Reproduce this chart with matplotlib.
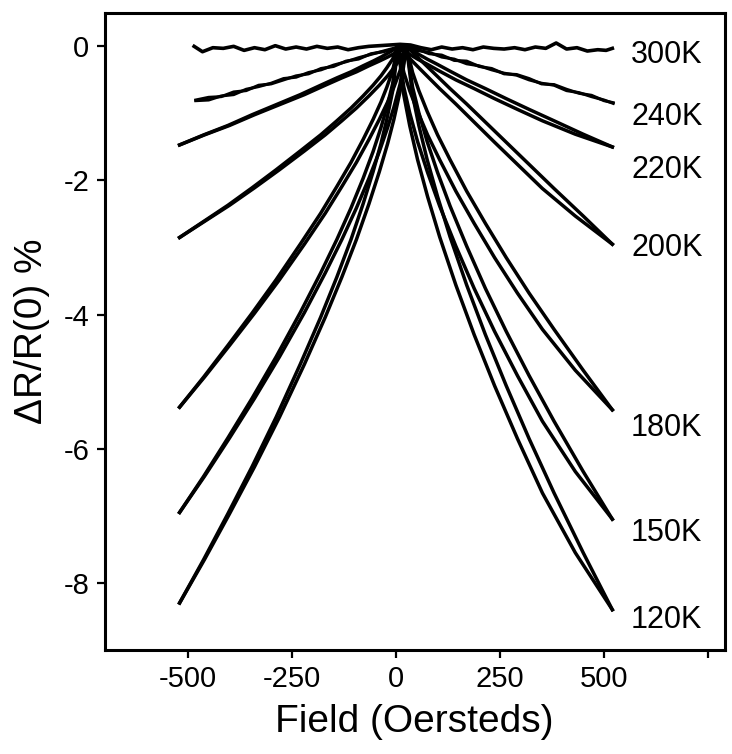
import numpy as np
import matplotlib
matplotlib.use("Agg")
import matplotlib.pyplot as plt

plt.rcParams['font.family'] = ['Liberation Sans', 'DejaVu Sans']
plt.rcParams['axes.unicode_minus'] = False

# Field points (Oe) for the increasing and decreasing sweeps of the
# low-temperature curves (peak sits near the coercive field)
field_up = [-520, -460, -400, -340, -280, -220, -170, -130, -95, -65, -40, -20,
            -5, 10, 25, 40, 55, 75, 100, 130, 170, 215, 265, 320, 380, 450, 520]
field_down = [-520, -462, -404, -346, -288, -230, -181, -142, -108, -79, -55,
              -36, -22, -8, 5, 19, 33, 52, 76, 105, 144, 188, 237, 292, 352,
              431, 520]

# dR/R(0) in percent for each temperature
mr_120 = [-8.30, -7.65, -6.97, -6.27, -5.53, -4.74, -4.04, -3.44, -2.88, -2.35,
          -1.87, -1.45, -1.09, -0.67, 0.0, -0.73, -1.18, -1.69, -2.24, -2.84,
          -3.56, -4.30, -5.06, -5.85, -6.66, -7.55, -8.40]
mr_150 = [-6.95, -6.41, -5.84, -5.25, -4.63, -3.97, -3.38, -2.88, -2.41, -1.97,
          -1.57, -1.21, -0.91, -0.56, 0.0, -0.61, -0.99, -1.42, -1.88, -2.38,
          -2.98, -3.61, -4.25, -4.91, -5.59, -6.34, -7.05]
mr_180 = [-5.38, -4.93, -4.46, -3.98, -3.48, -2.95, -2.49, -2.09, -1.73, -1.39,
          -1.09, -0.83, -0.61, -0.36, 0.0, -0.39, -0.66, -0.97, -1.32, -1.69,
          -2.16, -2.64, -3.15, -3.68, -4.22, -4.83, -5.42]
mr_200 = [-2.85, -2.61, -2.37, -2.11, -1.84, -1.56, -1.32, -1.11, -0.92, -0.74,
          -0.58, -0.44, -0.32, -0.19, 0.0, -0.09, -0.18, -0.30, -0.45, -0.63,
          -0.86, -1.13, -1.43, -1.76, -2.12, -2.53, -2.95]
mr_220 = [-1.47, -1.32, -1.18, -1.02, -0.87, -0.72, -0.58, -0.47, -0.38, -0.29,
          -0.22, -0.16, -0.11, -0.06, 0.0, -0.06, -0.12, -0.19, -0.27, -0.37,
          -0.50, -0.63, -0.78, -0.94, -1.11, -1.31, -1.50]

field_240 = [-481, -450, -420, -390, -360, -330, -300, -270, -240, -210, -180,
             -150, -120, -90, -60, -30, 0, 20, 50, 80, 110, 140, 170, 200, 230,
             260, 290, 320, 350, 380, 410, 440, 470, 500, 522]
mr_240 = [-0.81, -0.80, -0.74, -0.72, -0.64, -0.60, -0.55, -0.48, -0.46, -0.39,
          -0.35, -0.28, -0.23, -0.17, -0.12, -0.07, -0.02, 0.0, -0.06, -0.09,
          -0.16, -0.19, -0.26, -0.29, -0.35, -0.40, -0.43, -0.50, -0.55, -0.58,
          -0.66, -0.69, -0.75, -0.80, -0.85]
mr_240_back = [-0.80, -0.76, -0.75, -0.68, -0.66, -0.58, -0.56, -0.50, -0.44,
               -0.41, -0.33, -0.30, -0.22, -0.19, -0.11, -0.08, -0.03, 0.0,
               -0.04, -0.11, -0.13, -0.21, -0.22, -0.30, -0.33, -0.41, -0.42,
               -0.48, -0.56, -0.57, -0.64, -0.70, -0.73, -0.81, -0.84]

field_300 = [-485, -465, -440, -415, -390, -365, -340, -315, -290, -265, -240,
             -215, -190, -165, -140, -115, -90, -65, -40, -15, 10, 35, 60, 85,
             110, 135, 160, 185, 210, 235, 260, 285, 310, 335, 360, 385, 410,
             435, 460, 485, 505, 520]
mr_300 = [0.0, -0.08, -0.02, -0.03, 0.0, -0.06, -0.02, -0.05, 0.01, -0.04,
          -0.01, -0.04, 0.0, -0.03, -0.01, -0.05, -0.02, 0.0, 0.01, 0.02, 0.03,
          0.02, -0.02, -0.05, -0.01, -0.04, -0.02, -0.05, -0.01, -0.03, -0.04,
          -0.02, -0.05, -0.01, -0.03, 0.05, -0.04, -0.02, -0.07, -0.05, -0.06,
          -0.03]

low_t = [mr_220, mr_200, mr_180, mr_150, mr_120]
names = ["300K", "240K", "220K", "200K", "180K", "150K", "120K"]
label_y = [-0.13, -1.05, -1.84, -3.0, -5.69, -7.26, -8.56]

fig = plt.figure(figsize=(7.32, 7.54), dpi=100)
ax = fig.add_axes([0.143, 0.138, 0.847, 0.845])

ax.plot(field_300, mr_300, color='black', lw=2.6)
ax.plot(field_240, mr_240, color='black', lw=2.2)
ax.plot(field_240, mr_240_back, color='black', lw=2.2)
for r in low_t:
    ax.plot(field_up, r, color='black', lw=2.5)
    ax.plot(field_down, r, color='black', lw=2.5)

for name, ly in zip(names, label_y):
    ax.text(565, ly, name, fontsize=22, va='center', ha='left')

ax.set_xlim(-700, 790)
ax.set_ylim(-9, 0.5)
ax.set_xticks([-500, -250, 0, 250, 500, 750])
ax.set_xticklabels(['-500', '-250', '0', '250', '500', ''], fontsize=21,
                   fontweight='light')
ax.set_yticks([0, -2, -4, -6, -8])
ax.set_yticklabels(['0', '-2', '-4', '-6', '-8'], fontsize=21)
ax.tick_params(direction='out', length=6, width=1.6, pad=5)
for s in ax.spines.values():
    s.set_linewidth(2.2)

ax.set_xlabel('Field (Oersteds)', fontsize=28, labelpad=8)
ax.set_ylabel('ΔR/R(0) %', fontsize=28, labelpad=10)

fig.savefig('out.png', dpi=100)
